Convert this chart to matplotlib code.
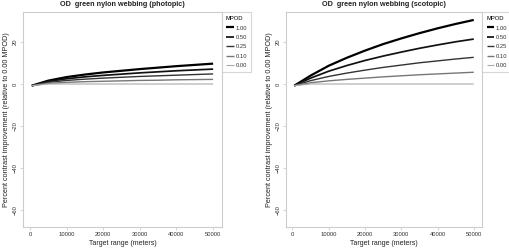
import matplotlib
matplotlib.use("Agg")
import matplotlib.pyplot as plt

plt.rcParams["font.family"] = ["Liberation Sans", "DejaVu Sans"]

# target range (meters)
ranges = [500, 5000, 10000, 15000, 20000, 25000, 30000, 35000, 40000, 45000, 50000]
mpod_labels = ["1.00", "0.50", "0.25", "0.10", "0.00"]

photopic = [
    [-0.8, 1.6, 3.3, 4.5, 5.5, 6.3, 7.1, 7.8, 8.5, 9.1, 9.7],
    [-0.8, 1.2, 2.5, 3.4, 4.1, 4.7, 5.3, 5.8, 6.3, 6.7, 7.1],
    [-0.8, 0.8, 1.7, 2.3, 2.8, 3.2, 3.6, 3.9, 4.2, 4.5, 4.8],
    [-0.8, 0.3, 0.8, 1.1, 1.3, 1.5, 1.7, 1.8, 2.0, 2.1, 2.2],
    [-0.8, 0.0, 0.0, 0.0, 0.0, 0.0, 0.0, 0.0, 0.0, 0.0, 0.0],
]
scotopic = [
    [-0.8, 4.0, 8.7, 12.5, 15.9, 19.0, 21.7, 24.2, 26.5, 28.6, 30.5],
    [-0.8, 2.8, 6.1, 8.8, 11.2, 13.3, 15.2, 17.0, 18.6, 20.1, 21.4],
    [-0.8, 1.6, 3.6, 5.2, 6.6, 7.9, 9.0, 10.1, 11.0, 11.9, 12.7],
    [-0.8, 0.6, 1.5, 2.2, 2.8, 3.4, 3.9, 4.4, 4.8, 5.2, 5.6],
    [-0.8, 0.0, 0.0, 0.0, 0.0, 0.0, 0.0, 0.0, 0.0, 0.0, 0.0],
]

colors = ["#000000", "#111111", "#333333", "#777777", "#aaaaaa"]
widths = [1.6, 1.25, 1.0, 1.0, 0.8]
frame = "#cccccc"


def draw_panel(ax, series, title):
    for vals, lab, c, lw in zip(series, mpod_labels, colors, widths):
        ax.plot(ranges, vals, color=c, lw=lw, label=lab, solid_capstyle="butt")
    ax.set_xlim(-1900, 52400)
    ax.set_ylim(-68.1, 34.3)
    ax.set_xticks([0, 10000, 20000, 30000, 40000, 50000])
    ax.set_yticks([20, 0, -20, -40, -60])
    ax.tick_params(labelsize=4.2, colors="#cccccc", labelcolor="#333333",
                   length=2.0, width=0.6, pad=1.5)
    for lab in ax.get_yticklabels():
        lab.set_rotation(90)
        lab.set_va("center")
    for sp in ax.spines.values():
        sp.set_color(frame)
        sp.set_linewidth(0.8)
    ax.set_title(title, fontsize=5.2, fontweight="bold", pad=4, color="#222222")
    ax.set_xlabel("Target range (meters)", fontsize=5.0, labelpad=2, color="#222222")
    ax.set_ylabel("Percent contrast improvement (relative to 0.00 MPOD)",
                  fontsize=5.2, labelpad=2, color="#222222")
    leg = ax.legend(title="MPOD", loc="upper left", bbox_to_anchor=(1.0, 1.0),
                    borderaxespad=0, fontsize=4.2, title_fontsize=4.2,
                    handlelength=1.3, handletextpad=0.3, labelspacing=0.75,
                    fancybox=False, frameon=True, borderpad=0.7)
    leg.get_frame().set_edgecolor(frame)
    leg.get_frame().set_linewidth(0.8)
    leg._legend_box.align = "left"
    for t in leg.get_texts():
        t.set_color("#333333")


fig = plt.figure(figsize=(5.10, 2.49), dpi=100)
ax1 = fig.add_axes([0.0451, 0.0884, 0.390, 0.8635])
ax2 = fig.add_axes([0.560, 0.0884, 0.386, 0.8635])
draw_panel(ax1, photopic, "OD  green nylon webbing (photopic)")
draw_panel(ax2, scotopic, "OD  green nylon webbing (scotopic)")

fig.savefig("out.png", dpi=100)
